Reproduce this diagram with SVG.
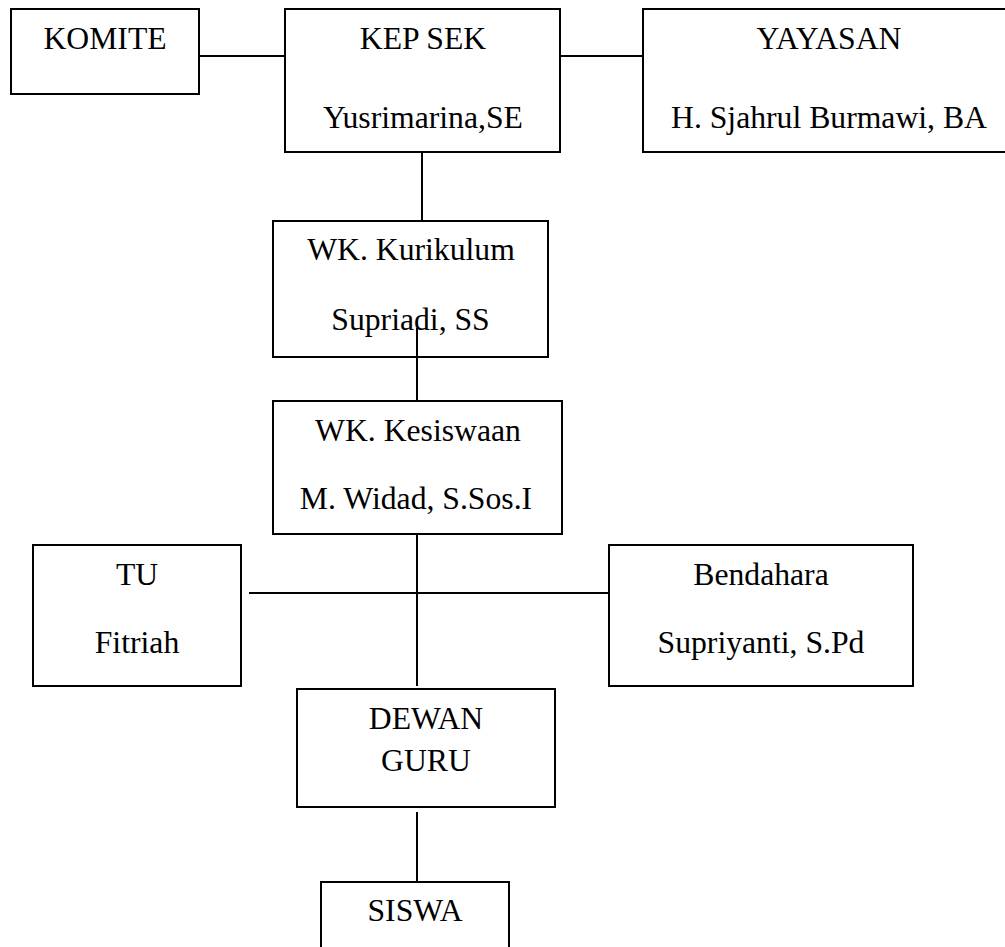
<svg xmlns="http://www.w3.org/2000/svg" width="1005" height="947" viewBox="0 0 1005 947">
<style>
.box{fill:#fff;stroke:#000;stroke-width:2}
.ln{stroke:#000;stroke-width:2;fill:none}
.t{font-family:'Liberation Serif','Times New Roman','DejaVu Serif',serif;font-size:31.7px;fill:#000;text-anchor:middle}
</style>
<rect width="1005" height="947" fill="#fff"/>
<g id="connectors">
<line class="ln" x1="199" y1="56" x2="285" y2="56"/>
<line class="ln" x1="560" y1="56" x2="643" y2="56"/>
<line class="ln" x1="422" y1="152" x2="422" y2="221"/>
<line class="ln" x1="417" y1="328" x2="417" y2="401"/>
<line class="ln" x1="417" y1="534" x2="417" y2="686"/>
<line class="ln" x1="249" y1="593" x2="609" y2="593"/>
<line class="ln" x1="417" y1="812" x2="417" y2="882"/>
</g>
<g class="t" font-family="Liberation Serif, Times New Roman, serif">
<g id="komite">
<rect class="box" x="11" y="9" width="188" height="85"/>
<text x="105" y="49">KOMITE</text>
</g>
<g id="kepsek">
<rect class="box" x="285" y="9" width="275" height="143"/>
<text x="423" y="49">KEP SEK</text>
<text x="423" y="128">Yusrimarina,SE</text>
</g>
<g id="yayasan">
<rect class="box" x="643" y="9" width="372" height="143"/>
<text x="829" y="49">YAYASAN</text>
<text x="829" y="128">H. Sjahrul Burmawi, BA</text>
</g>
<g id="wk-kurikulum">
<rect class="box" x="273" y="221" width="275" height="136"/>
<text x="411" y="260">WK. Kurikulum</text>
<text x="410.5" y="330">Supriadi, SS</text>
</g>
<line class="ln" x1="417" y1="328" x2="417" y2="357"/>
<g id="wk-kesiswaan">
<rect class="box" x="273" y="401" width="289" height="133"/>
<text x="418" y="441">WK. Kesiswaan</text>
<text x="416" y="509">M. Widad, S.Sos.I</text>
</g>
<g id="tu">
<rect class="box" x="33" y="545" width="208" height="141"/>
<text x="137" y="585">TU</text>
<text x="137" y="653">Fitriah</text>
</g>
<g id="bendahara">
<rect class="box" x="609" y="545" width="304" height="141"/>
<text x="761" y="585">Bendahara</text>
<text x="761" y="653">Supriyanti, S.Pd</text>
</g>
<g id="dewan-guru">
<rect class="box" x="297" y="689" width="258" height="118"/>
<text x="426" y="729">DEWAN</text>
<text x="426" y="771">GURU</text>
</g>
<g id="siswa">
<rect class="box" x="321" y="882" width="188" height="90"/>
<text x="415" y="921">SISWA</text>
</g>
</g>
</svg>
